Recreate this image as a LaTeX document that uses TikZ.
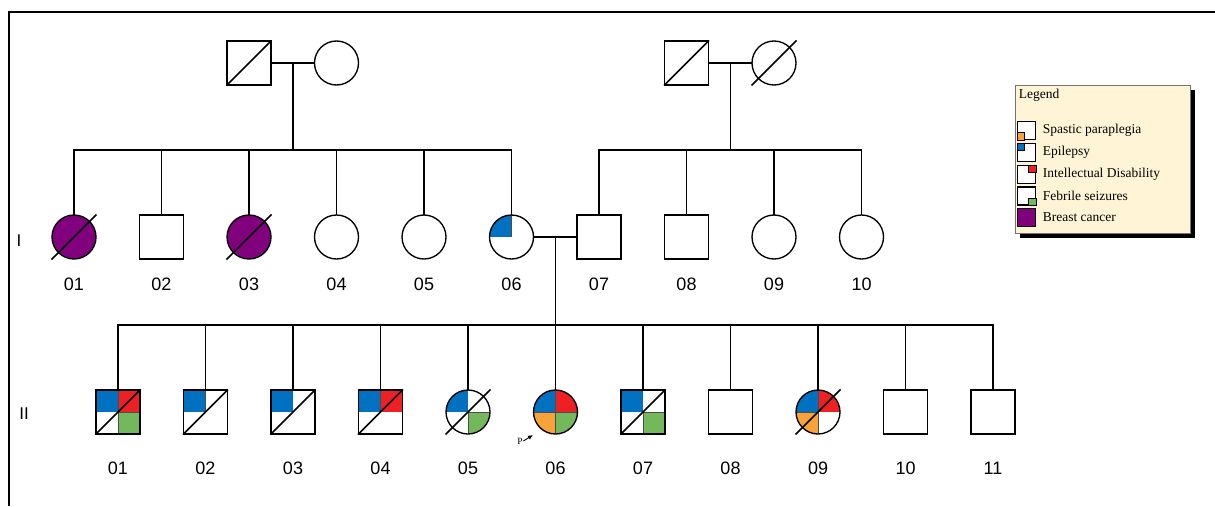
\documentclass[tikz,border=0pt]{standalone}
\usepackage{fontspec}
\setmainfont{Liberation Serif}
\setsansfont{Liberation Sans}
\usetikzlibrary{positioning, calc, shadows, arrows.meta}

\definecolor{epblue}{RGB}{0,112,192}
\definecolor{idred}{RGB}{237,32,36}
\definecolor{fsgreen}{RGB}{116,184,92}
\definecolor{sporange}{RGB}{247,163,58}
\definecolor{bcpurple}{RGB}{128,0,126}
\definecolor{legcream}{RGB}{255,245,214}
\newcommand{\numfont}{\sffamily\fontsize{18}{18}\selectfont}
\newcommand{\deceased}[1]{\draw[slash] ($(#1.center)+(-22.5,22.5)$) -- ($(#1.center)+(22.5,-22.5)$);}

\begin{document}
\begin{tikzpicture}[
  x=1pt, y=-1pt, line width=1.5pt, node distance=43.5pt, >=Latex,
  person/.style={draw, fill=white, inner sep=0pt, outer sep=0pt, minimum size=44pt, line width=1.35pt},
  male/.style={person, rectangle},
  female/.style={person, circle},
  bc/.style={fill=bcpurple},
  qep/.style={fill=epblue, draw=black!70, line width=.6pt},
  qid/.style={fill=idred, draw=black!70, line width=.6pt},
  qfs/.style={fill=fsgreen, draw=black!70, line width=.6pt},
  qsp/.style={fill=sporange, draw=black!70, line width=.6pt},
  qnn/.style={fill=white},
  quad/.style n args={4}{path picture={
    \path[#1] (path picture bounding box.center) rectangle (path picture bounding box.north west);
    \path[#2] (path picture bounding box.center) rectangle (path picture bounding box.north east);
    \path[#3] (path picture bounding box.center) rectangle (path picture bounding box.south east);
    \path[#4] (path picture bounding box.center) rectangle (path picture bounding box.south west);}},
  slash/.style={line width=1.6pt},
  labI/.style={font=\numfont, inner sep=0pt, label distance=18pt},
  labII/.style={font=\numfont, inner sep=0pt, label distance=27pt},
  genlab/.style={font=\sffamily\fontsize{17}{17}\selectfont, inner sep=0pt},
  legbox/.style={draw=black!55, line width=.8pt, fill=legcream, minimum width=175pt, minimum height=148pt,
                 drop shadow={shadow xshift=5pt, shadow yshift=-5pt, fill=black, opacity=1}},
  legsq/.style={draw, line width=1.8pt, fill=white, inner sep=0pt, minimum size=18pt},
  legmini/.style={draw, line width=.7pt, inner sep=0pt, minimum size=7.5pt},
  legtxt/.style={font=\fontsize{13.5}{15}\selectfont, inner sep=0pt, anchor=west}
]
\useasboundingbox (0,0) rectangle (1215,506);
\draw (9,506) -- (9,12) -- (1215,12);

% grandparents
\node[male] (f1) at (249,63) {};
\node[female, right=of f1] (m1) {};
\node[male] (f2) at (686.5,63) {};
\node[female, right=of f2] (m2) {};

% generation I
\node[female, bc, label={[labI]below:01}] (i01) at (74,237) {};
\node[male, right=of i01, label={[labI]below:02}] (i02) {};
\node[female, bc, right=of i02, label={[labI]below:03}] (i03) {};
\node[female, right=of i03, label={[labI]below:04}] (i04) {};
\node[female, right=of i04, label={[labI]below:05}] (i05) {};
\node[female, quad={qep}{qnn}{qnn}{qnn}, right=of i05, label={[labI]below:06}] (i06) {};
\node[male, right=of i06, label={[labI]below:07}] (i07) {};
\node[male, right=of i07, label={[labI]below:08}] (i08) {};
\node[female, right=of i08, label={[labI]below:09}] (i09) {};
\node[female, right=of i09, label={[labI]below:10}] (i10) {};

% generation II
\node[male, quad={qep}{qid}{qfs}{qnn}, label={[labII]below:01}] (ii01) at (118,412) {};
\node[male, quad={qep}{qnn}{qnn}{qnn}, right=of ii01, label={[labII]below:02}] (ii02) {};
\node[male, quad={qep}{qnn}{qnn}{qnn}, right=of ii02, label={[labII]below:03}] (ii03) {};
\node[male, quad={qep}{qid}{qnn}{qnn}, right=of ii03, label={[labII]below:04}] (ii04) {};
\node[female, quad={qep}{qnn}{qfs}{qnn}, right=of ii04, label={[labII]below:05}] (ii05) {};
\node[female, quad={qep}{qid}{qfs}{qsp}, right=of ii05, label={[labII]below:06}] (ii06) {};
\node[male, quad={qep}{qnn}{qfs}{qnn}, right=of ii06, label={[labII]below:07}] (ii07) {};
\node[male, right=of ii07, label={[labII]below:08}] (ii08) {};
\node[female, quad={qep}{qid}{qnn}{qsp}, right=of ii08, label={[labII]below:09}] (ii09) {};
\node[male, right=of ii09, label={[labII]below:10}] (ii10) {};
\node[male, right=of ii10, label={[labII]below:11}] (ii11) {};

\node[genlab] (gI) at (19,241) {I};
\node[genlab] (gII) at (24,414) {II};

% deceased
\foreach \p in {f1,f2,m2,i01,i03,ii01,ii02,ii03,ii04,ii05,ii07,ii09}
  \deceased{\p};

% proband
\node[font=\fontsize{9.5}{9.5}\selectfont, inner sep=0pt] (pb) at (520,441) {P};
\coordinate (pbtip) at (533,435);
\draw[-{Latex[length=5pt,width=4.5pt]}, line width=.9pt] (pb.east) -- (pbtip);

% lines of descent
\draw (f1) -- (m1);
\draw (f2) -- (m2);
\draw (i06) -- (i07);
\coordinate (mid1) at ($(f1)!.5!(m1)$);
\coordinate (mid2) at ($(f2)!.5!(m2)$);
\coordinate (mid3) at ($(i06)!.5!(i07)$);
\coordinate (sib1) at ($(mid1)+(0,87)$);
\coordinate (sib2) at ($(mid2)+(0,87)$);
\coordinate (sib3) at ($(mid3)+(0,88)$);
\draw (mid1) -- (sib1);
\draw (mid2) -- (sib2);
\draw (mid3) -- (sib3);
\draw (i01.north) |- (sib1) -| (i06.north);
\foreach \k in {02,03,04,05}
  \draw (i\k.north) -- (i\k.north |- sib1);
\draw (i07.north) |- (sib2) -| (i10.north);
\foreach \k in {08,09}
  \draw (i\k.north) -- (i\k.north |- sib2);
\draw (ii01.north) |- (sib3) -| (ii11.north);
\foreach \k in {02,03,04,05,06,07,08,09,10}
  \draw (ii\k.north) -- (ii\k.north |- sib3);

% legend
\node[legbox] (legend) at (1102.5,159) {};
\node[legtxt, anchor=north west] (legtitle) at (1018,88) {Legend};
\foreach \n/\yy/\cor/\col/\txt in {sp/130.5/south west/sporange/Spastic paraplegia,
    ep/152.5/north west/epblue/Epilepsy,
    id/174.5/north east/idred/Intellectual Disability,
    fs/196/south east/fsgreen/Febrile seizures}{
  \node[legsq] (k\n) at (1026.5,\yy) {};
  \node[legmini, fill=\col, anchor=\cor] (k\n-in) at (k\n.\cor) {};
  \node[legtxt] (k\n-txt) at (1042,\yy) {\txt};
}
\node[legsq, fill=bcpurple] (kbc) at (1026.5,217.5) {};
\node[legtxt] (kbc-txt) at (1042,217.5) {Breast cancer};
\end{tikzpicture}
\end{document}
